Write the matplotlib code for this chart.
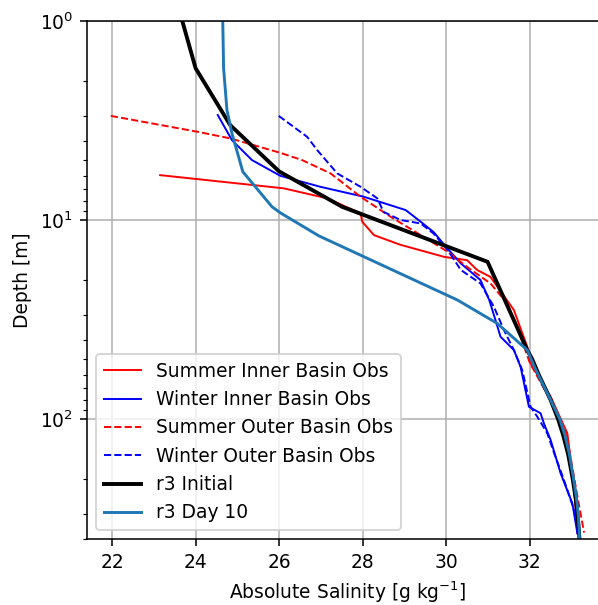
import numpy as np
import matplotlib
matplotlib.use('Agg')
import matplotlib.pyplot as plt

plt.rcParams['font.size'] = 9.6

# salinity profiles (S in g/kg, depth in m)
si_S = [23.15, 26.11, 27.15, 27.95, 27.99, 28.27, 28.9, 29.95, 30.5, 30.74, 31.06, 31.62, 31.94, 32.02, 32.5, 32.9, 33.06, 33.14]
si_D = [5.95, 6.93, 7.78, 9.25, 10.2, 11.9, 13.3, 15.3, 15.9, 17.8, 19.3, 28.3, 43.2, 52.4, 77, 117.6, 218, 373]

wi_S = [24.53, 24.87, 25.35, 26.03, 26.99, 28.03, 29.03, 29.39, 29.7, 30.03, 30.35, 30.82, 31.03, 31.18, 31.3, 31.62, 31.78, 31.98, 32.26, 32.34, 32.5, 32.74, 33.02, 33.14]
wi_D = [2.97, 3.97, 5.0, 6.0, 6.81, 7.64, 8.91, 10.2, 11.5, 13.9, 16.5, 20.0, 25.2, 31.8, 38.5, 44.9, 54.5, 86.5, 93.3, 105, 127, 187, 264, 373]

so_S = [21.97, 24.03, 24.83, 26.03, 26.55, 27.23, 27.95, 28.67, 29.39, 30.03, 30.5, 31.06, 31.46, 31.78, 32.0, 32.45, 32.88, 33.1, 33.22, 33.3]
so_D = [3.0, 3.6, 3.89, 4.6, 5.0, 5.83, 7.64, 9.63, 11.9, 14.4, 17.2, 20.8, 26.2, 38.5, 52, 77, 118, 218, 300, 370]

wo_S = [25.99, 26.67, 26.91, 27.39, 27.95, 28.35, 28.5, 28.91, 29.39, 29.7, 30.03, 30.35, 30.82, 31.14, 31.38, 31.62, 31.82, 32.02, 32.18, 32.42, 32.58, 32.82, 33.06, 33.14]
wo_D = [3.0, 3.82, 4.45, 5.83, 6.81, 7.78, 9.1, 10.0, 10.4, 11.7, 14.1, 17.8, 20.8, 27.2, 35.6, 44.9, 56.6, 86.5, 97, 117.6, 147, 202, 285, 359]

init_S = [23.68, 24.0, 24.83, 26.0, 27.51, 30.99, 31.94, 32.06, 32.22, 32.5, 32.68, 32.8, 32.92, 33.03, 33.1, 33.14, 33.17, 33.19]
init_D = [1.0, 1.73, 3.34, 5.7, 8.58, 16.2, 44.9, 50, 60, 80, 100, 120, 150, 200, 250, 300, 350, 400]

d10_S = [24.65, 24.67, 24.75, 24.87, 25.13, 25.83, 26.03, 26.95, 30.27, 31.22, 31.94, 32.12, 32.5, 32.72, 32.84, 32.95, 33.05, 33.12, 33.16, 33.18, 33.19]
d10_D = [1.0, 1.73, 2.8, 3.67, 5.72, 8.58, 9.2, 12.0, 25.2, 33.0, 44.9, 55, 80, 100, 120, 150, 200, 250, 300, 350, 400]

fig = plt.figure(figsize=(598/140, 605/140), dpi=140)
ax = fig.add_axes([0.1455, 0.1086, 0.871, 0.857])

ax.plot(si_S, si_D, 'r-', lw=1, label='Summer Inner Basin Obs')
ax.plot(wi_S, wi_D, 'b-', lw=1, label='Winter Inner Basin Obs')
ax.plot(so_S, so_D, 'r--', lw=1, label='Summer Outer Basin Obs')
ax.plot(wo_S, wo_D, 'b--', lw=1, label='Winter Outer Basin Obs')
ax.plot(init_S, init_D, 'k-', lw=2, label='r3 Initial')
ax.plot(d10_S, d10_D, color='C0', lw=1.5, label='r3 Day 10')

ax.set_yscale('log')
ax.set_ylim(400, 1)
ax.set_xlim(21.4, 33.87)
ax.set_xticks([22, 24, 26, 28, 30, 32])
ax.grid(True)
ax.set_xlabel('Absolute Salinity [g kg$^{-1}$]')
ax.set_ylabel('Depth [m]')
ax.legend(loc='lower left')

plt.savefig('out.png', dpi=140)
